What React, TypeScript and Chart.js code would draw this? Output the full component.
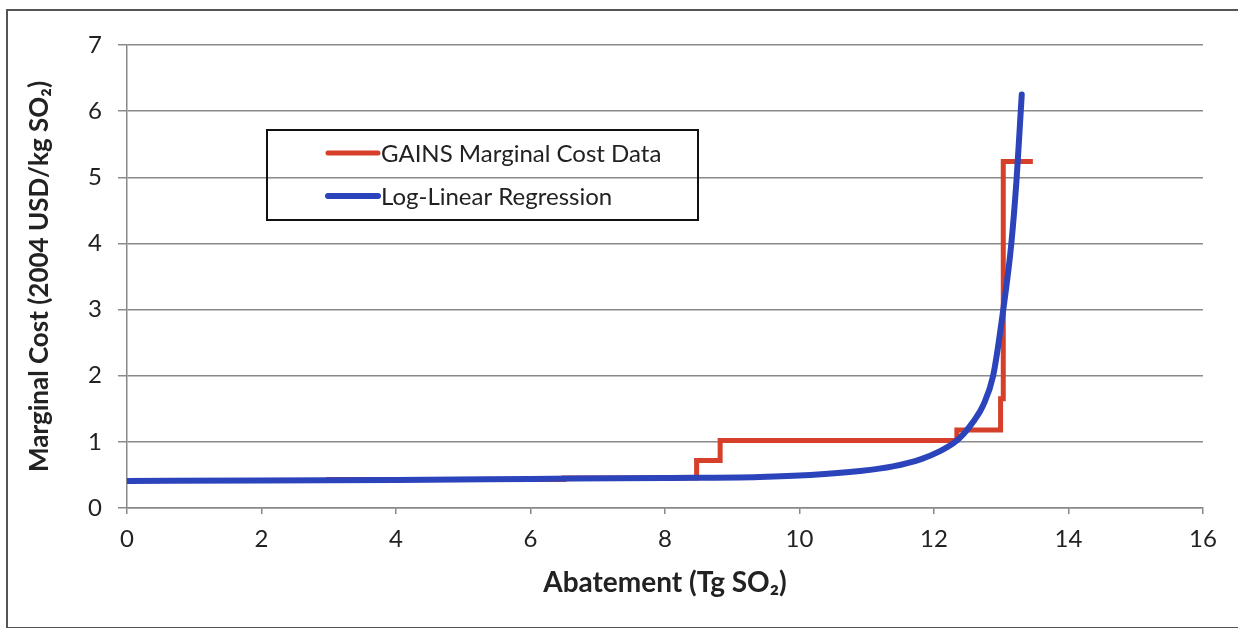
import React, { useEffect, useRef } from "react";
import { Chart, registerables } from "chart.js";

Chart.register(...registerables);

// GAINS marginal cost data (step corners, stepped 'before': horizontal then vertical)
const gainsX = [0, 3, 6.5, 8.47, 8.82, 12.34, 12.99, 13.03, 13.47];
const gainsY = [0.415, 0.43, 0.455, 0.72, 1.02, 1.18, 1.65, 5.24, 5.24];

// Log-linear regression curve
const regX = [0, 2, 4, 6, 8, 9.41, 10.16, 10.9, 11.39, 11.81, 12.09, 12.29, 12.44, 12.58, 12.73, 12.88, 13.03, 13.15, 13.23, 13.29, 13.305];
const regY = [0.41, 0.415, 0.425, 0.44, 0.455, 0.47, 0.5, 0.56, 0.63, 0.74, 0.86, 0.98, 1.12, 1.3, 1.55, 2.0, 3.0, 4.0, 5.0, 6.0, 6.25];

const seriesLabels = ["GAINS Marginal Cost Data", "Log-Linear Regression"];
const xTitle = "Abatement (Tg SO₂)";
const yTitle = "Marginal Cost (2004 USD/kg SO₂)";

const RED = "#d6402a";
const BLUE = "#2b43bb";
const FONT = "Lato, 'Open Sans', sans-serif";

const legendPlugin = {
  id: "boxLegend",
  afterDraw(chart: any) {
    const ctx = chart.ctx;
    const bx = 267, by = 130, bw = 431, bh = 90;
    ctx.save();
    ctx.strokeStyle = "#111";
    ctx.lineWidth = 2;
    ctx.strokeRect(bx, by, bw, bh);
    ctx.font = `24px ${FONT}`;
    ctx.textBaseline = "middle";
    ctx.textAlign = "left";
    const rows = [153, 196];
    chart.data.datasets.forEach((ds: any, i: number) => {
      const y = rows[i];
      ctx.strokeStyle = ds.borderColor;
      ctx.lineWidth = ds.borderWidth;
      ctx.lineCap = "round";
      ctx.beginPath();
      ctx.moveTo(328, y);
      ctx.lineTo(378, y);
      ctx.stroke();
      ctx.fillStyle = "#222";
      ctx.fillText(ds.label, 381, y + 1);
    });
    ctx.restore();
  },
};

export default function App() {
  const ref = useRef<HTMLCanvasElement | null>(null);
  useEffect(() => {
    if (!ref.current) return;
    const chart = new Chart(ref.current, {
      type: "line",
      data: {
        datasets: [
          {
            label: seriesLabels[0],
            data: gainsX.map((x, i) => ({ x, y: gainsY[i] })),
            borderColor: RED,
            backgroundColor: RED,
            borderWidth: 5,
            stepped: "before",
            pointRadius: 0,
            borderJoinStyle: "miter",
            order: 2,
          },
          {
            label: seriesLabels[1],
            data: regX.map((x, i) => ({ x, y: regY[i] })),
            borderColor: BLUE,
            backgroundColor: BLUE,
            borderWidth: 6,
            cubicInterpolationMode: "monotone",
            pointRadius: 0,
            borderCapStyle: "round",
            order: 1,
          },
        ],
      },
      options: {
        animation: false,
        responsive: false,
        layout: { padding: { left: 0, top: 45, right: 35, bottom: 0 } },
        plugins: { legend: { display: false }, tooltip: { enabled: false } },
        scales: {
          x: {
            type: "linear",
            min: 0,
            max: 16,
            ticks: { stepSize: 2, color: "#222", font: { family: FONT, size: 24 }, padding: 11 },
            grid: { drawOnChartArea: false, drawTicks: true, tickLength: 6, color: "#888", lineWidth: 1.5 },
            border: { color: "#888", width: 1.5 },
            title: {
              display: true,
              text: xTitle,
              color: "#222",
              font: { family: FONT, size: 28, weight: "bold" },
              padding: { top: 0, bottom: 28 },
            },
            afterFit: (s: any) => { s.height = 120; },
          },
          y: {
            min: 0,
            max: 7,
            ticks: { stepSize: 1, color: "#222", font: { family: FONT, size: 24 }, padding: 16 },
            grid: { color: "#8a8a8a", lineWidth: 1.5, tickLength: 9 },
            border: { color: "#888", width: 1.5 },
            title: {
              display: true,
              text: yTitle,
              color: "#222",
              font: { family: FONT, size: 26, weight: "bold" },
              padding: { top: 24, bottom: 0 },
            },
            afterFit: (s: any) => { s.width = 127; },
          },
        },
      },
      plugins: [legendPlugin],
    });
    return () => chart.destroy();
  }, []);

  return (
    <div style={{ position: "absolute", left: 0, top: 0, width: 1238, height: 628, background: "#fff", overflow: "hidden" }}>
      <div
        style={{
          position: "absolute",
          left: 6,
          top: 9,
          width: 1300,
          height: 616,
          borderLeft: "2px solid #555",
          borderTop: "2px solid #555",
          borderBottom: "2px solid #555",
        }}
      />
      <canvas ref={ref} width={1238} height={628} style={{ position: "absolute", left: 0, top: 0 }} />
    </div>
  );
}
